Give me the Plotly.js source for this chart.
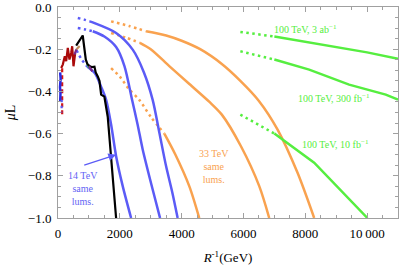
<!DOCTYPE html>
<html>
<head>
<meta charset="utf-8">
<script src="https://cdn.plot.ly/plotly-3.0.1.min.js"></script>
<style>html,body{margin:0;padding:0;background:#fff;}#chart{width:400px;height:265px;}</style>
</head>
<body>
<div id="chart"></div>
<script>
// ---- data (R^-1 in GeV, muL) ----
const blackX = [588, 700, 800, 900, 950, 1020, 1100, 1180, 1220, 1290, 1341, 1396, 1500, 1609, 1720, 1880];
const blackY = [-0.183, -0.16, -0.135, -0.25, -0.27, -0.28, -0.285, -0.283, -0.31, -0.33, -0.35, -0.415, -0.425, -0.52, -0.71, -1.0];

const redX = [103, 155, 220, 265, 317, 371, 426, 459, 501, 523, 556];
const redY = [-0.289, -0.273, -0.234, -0.257, -0.194, -0.249, -0.218, -0.186, -0.281, -0.241, -0.218];
const redDashX = [135, 140, 135, 140, 135];
const redDashY = [-0.29, -0.35, -0.40, -0.46, -0.52];
const blueShortX = [70, 85, 65, 80, 70];
const blueShortY = [-0.31, -0.34, -0.38, -0.41, -0.45];
const blueShortDotX = [120, 115];
const blueShortDotY = [-0.44, -0.50];
const purpleAX = [533, 600];
const purpleAY = [-0.225, -0.20];
const tanX = [600, 700];
const tanY = [-0.20, -0.185];
const purpleBX = [1000, 1110];
const purpleBY = [-0.28, -0.305];
const greenSmallX = [930, 1000];
const greenSmallY = [-0.265, -0.29];

// 14 TeV curves
const blue1DotX = [600, 750, 950];
const blue1DotY = [-0.205, -0.245, -0.283];
const blue1X = [950, 1200, 1400, 1557, 1718, 1880, 2094, 2365];
const blue1Y = [-0.283, -0.315, -0.38, -0.44, -0.557, -0.707, -0.849, -1.0];
const blue2DotX = [640, 900, 1124];
const blue2DotY = [-0.10, -0.107, -0.115];
const blue2X = [1124, 1500, 1880, 2150, 2396, 2580, 2740, 3063, 3302];
const blue2Y = [-0.115, -0.14, -0.19, -0.28, -0.44, -0.56, -0.675, -0.865, -1.0];
const blue3DotX = [640, 850, 1018];
const blue3DotY = [-0.052, -0.06, -0.068];
const blue3X = [1018, 1124, 1880, 2417, 2780, 3063, 3280, 3496, 3700, 3871];
const blue3Y = [-0.068, -0.073, -0.123, -0.202, -0.31, -0.44, -0.596, -0.754, -0.88, -1.0];

// 33 TeV curves
const orange1DotX = [1718, 2000, 2300, 2630, 3000, 3440];
const orange1DotY = [-0.29, -0.33, -0.39, -0.44, -0.52, -0.60];
const orange1X = [3440, 3800, 4250, 4570];
const orange1Y = [-0.60, -0.70, -0.85, -1.0];
const orange2DotX = [1718, 2200, 2650];
const orange2DotY = [-0.123, -0.145, -0.17];
const orange2X = [2650, 3000, 3600, 4250, 4900, 5300, 5919, 6511, 6834];
const orange2Y = [-0.17, -0.20, -0.28, -0.365, -0.45, -0.51, -0.66, -0.849, -1.0];
const orange3DotX = [1718, 2300, 2850];
const orange3DotY = [-0.068, -0.09, -0.115];
const orange3X = [2850, 3500, 4000, 4600, 5300, 5900, 6500, 7100, 7750, 8288];
const orange3Y = [-0.115, -0.135, -0.16, -0.20, -0.27, -0.35, -0.445, -0.58, -0.786, -1.0];

// 100 TeV curves
const green3abDotX = [5900, 7000];
const green3abDotY = [-0.118, -0.14];
const green3abX = [7000, 8000, 9000, 10000, 11000];
const green3abY = [-0.14, -0.165, -0.19, -0.215, -0.245];
const green300DotX = [5900, 7000];
const green300DotY = [-0.21, -0.249];
const green300X = [7000, 8126, 9418, 10604, 11000];
const green300Y = [-0.249, -0.297, -0.368, -0.415, -0.439];
const green10DotX = [5900, 7000];
const green10DotY = [-0.51, -0.60];
const green10X = [7000, 8288, 10010];
const green10Y = [-0.60, -0.738, -1.0];

// ticks
const xTickVals = [0, 2000, 4000, 6000, 8000, 10000];
const xTickText = ['0', '2000', '4000', '6000', '8000', '10\u2009000'];
const yTickVals = [0, -0.2, -0.4, -0.6, -0.8, -1.0];
const yTickText = ['0.0', '\u22120.2', '\u22120.4', '\u22120.6', '\u22120.8', '\u22121.0'];

// ---- styles ----
const BLUE = '#5b5bf6', ORANGE = '#f9a24f', GREEN = '#56ee40', RED = '#aa0a0a', PURPLE = '#7a2a8a', TAN = '#c09060';
const DOT = '2.5px,3.5px';
function tr(x, y, color, width, dash, smooth) {
  return {x: x, y: y, type: 'scatter', mode: 'lines', hoverinfo: 'skip', showlegend: false,
          line: {color: color, width: width, dash: dash || 'solid',
                 shape: smooth ? 'spline' : 'linear', smoothing: smooth ? 0.8 : undefined}};
}
const traces = [
  tr(orange1DotX, orange1DotY, ORANGE, 2.5, DOT, true), tr(orange1X, orange1Y, ORANGE, 2.5, null, true),
  tr(orange2DotX, orange2DotY, ORANGE, 2.5, DOT, true), tr(orange2X, orange2Y, ORANGE, 2.5, null, true),
  tr(orange3DotX, orange3DotY, ORANGE, 2.5, DOT, true), tr(orange3X, orange3Y, ORANGE, 2.5, null, true),
  tr(green3abDotX, green3abDotY, GREEN, 2.5, DOT), tr(green3abX, green3abY, GREEN, 2.5),
  tr(green300DotX, green300DotY, GREEN, 2.5, DOT), tr(green300X, green300Y, GREEN, 2.5),
  tr(green10DotX, green10DotY, GREEN, 2.5, DOT), tr(green10X, green10Y, GREEN, 2.5),
  tr(blue1DotX, blue1DotY, BLUE, 2.5, DOT, true), tr(blue1X, blue1Y, BLUE, 2.5, null, true),
  tr(blue2DotX, blue2DotY, BLUE, 2.5, DOT, true), tr(blue2X, blue2Y, BLUE, 2.5, null, true),
  tr(blue3DotX, blue3DotY, BLUE, 2.5, DOT, true), tr(blue3X, blue3Y, BLUE, 2.5, null, true),
  tr(redX, redY, RED, 2.2),
  tr(redDashX, redDashY, '#d01515', 2.2, '4px,3px'),
  tr(blueShortX, blueShortY, '#2a2ae0', 2.5),
  tr(blueShortDotX, blueShortDotY, BLUE, 2.2, DOT),
  tr(purpleAX, purpleAY, PURPLE, 2.2), tr(tanX, tanY, TAN, 2.2),
  tr(greenSmallX, greenSmallY, '#30c030', 1.5),
  tr(blackX, blackY, '#000000', 2.2),
  tr(purpleBX, purpleBY, PURPLE, 2.2)
];

const FONT = 'Liberation Serif, Times New Roman, serif';
const axisCommon = {
  showgrid: false, zeroline: false, showline: true, linecolor: '#a0a0a0', linewidth: 1,
  mirror: 'ticks', ticks: 'inside', ticklen: 5, tickcolor: '#a0a0a0', tickwidth: 1,
  ticklabeloverflow: 'allow',
  tickfont: {family: FONT, size: 13, color: '#000'}
};
const layout = {
  width: 400, height: 265,
  margin: {l: 58, r: 2, t: 7, b: 47},
  paper_bgcolor: '#fff', plot_bgcolor: '#fff',
  font: {family: FONT, size: 10},
  xaxis: Object.assign({}, axisCommon, {
    range: [0, 11000], tickmode: 'array', tickvals: xTickVals, ticktext: xTickText,
    minor: {dtick: 500, ticks: 'inside', ticklen: 3, tickcolor: '#a0a0a0'},
    ticklabelstandoff: 3,
    title: {text: '<i>R</i><sup>-1</sup>(GeV)', font: {family: FONT, size: 13, color: '#000'}, standoff: 13}
  }),
  yaxis: Object.assign({}, axisCommon, {
    range: [-1.0, 0.0], tickmode: 'array', tickvals: yTickVals, ticktext: yTickText,
    minor: {dtick: 0.05, ticks: 'inside', ticklen: 3, tickcolor: '#a0a0a0'},
    ticklabelstandoff: 3,
    title: {text: '<i>\u03bc</i>L', font: {family: FONT, size: 14, color: '#000'}, standoff: 8}
  }),
  annotations: [
    {x: 305, y: 29, text: '100 TeV, 3 ab<sup>\u22121</sup>', font: {family: FONT, size: 10, color: GREEN}},
    {x: 334, y: 98, text: '100 TeV, 300 fb<sup>\u22121</sup>', font: {family: FONT, size: 10, color: GREEN}},
    {x: 335, y: 144, text: '100 TeV, 10 fb<sup>\u22121</sup>', font: {family: FONT, size: 10, color: GREEN}},
    {x: 214, y: 166, text: '33 TeV<br>same<br>lums.', font: {family: FONT, size: 10, color: ORANGE}},
    {x: 83, y: 188, text: '14 TeV<br>same<br>lums.', font: {family: FONT, size: 10, color: '#6464f4'}}
  ].map(function (a) {
    // convert pixel placement of labels into paper fractions
    return Object.assign(a, {showarrow: false, xref: 'paper', yref: 'paper', x: (a.x - 58) / 340, y: 1 - (a.y - 7) / 211,
                             xanchor: 'center', yanchor: 'middle'});
  }).concat([
    {x: 1880, y: -0.70, xref: 'x', yref: 'y', ax: 800, ay: -0.752, axref: 'x', ayref: 'y',
     showarrow: true, arrowhead: 2, arrowsize: 1.3, arrowwidth: 1.2, arrowcolor: BLUE, text: ''}
  ])
};
Plotly.newPlot('chart', traces, layout, {staticPlot: true, displayModeBar: false});
</script>
</body>
</html>
